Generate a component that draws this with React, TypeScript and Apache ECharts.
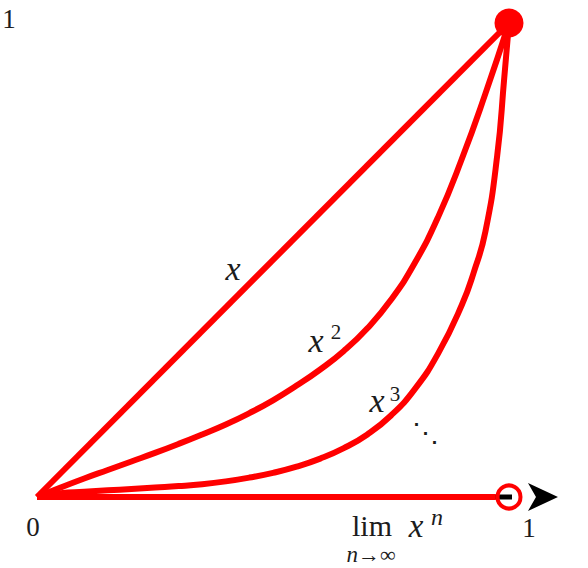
import React, { useEffect, useRef } from "react";
import * as echarts from "echarts";

// ---- data (normalised 0..1 coordinates) ----
const linearX = [0, 1];
const linearY = [0, 1];

const squareX = [0, 0.05, 0.1, 0.15, 0.2, 0.25, 0.3, 0.35, 0.4, 0.45, 0.5, 0.55, 0.6, 0.65, 0.7, 0.75, 0.8, 0.85, 0.9, 0.95, 1];
const squareY = [0, 0.02, 0.039, 0.057, 0.075, 0.093, 0.112, 0.132, 0.153, 0.177, 0.204, 0.235, 0.269, 0.308, 0.356, 0.416, 0.493, 0.591, 0.713, 0.851, 1];

const cubeX = [0, 0.05, 0.1, 0.15, 0.2, 0.25, 0.3, 0.35, 0.4, 0.45, 0.5, 0.55, 0.6, 0.65, 0.7, 0.75, 0.8, 0.85, 0.9, 0.925, 0.95, 0.975, 0.99, 1];
const cubeY = [0, 0.008, 0.011, 0.014, 0.017, 0.02, 0.023, 0.027, 0.033, 0.041, 0.051, 0.064, 0.081, 0.103, 0.132, 0.172, 0.227, 0.303, 0.405, 0.473, 0.56, 0.72, 0.885, 1];

const limitX = [0, 0.972];
const limitY = [0, 0];

const axisLineX = [0, 1.06];
const axisLineY = [0, 0];

const arrowPoint = [1.072, 0];
const closedPoint = [1, 1];
const openPoint = [1, 0];

const tickLabels = ["1", "0", "1"];
const curveLabels = ["x", "x", "x"];
const curveExponents = ["", "2", "3"];

const RED = "#ff0000";
const INK = "#1c1c1c";
const SERIF = "'Liberation Serif', 'DejaVu Serif', serif";

const zip = (xs: number[], ys: number[]) => xs.map((x, i) => [x, ys[i]]);

export default function App() {
  const ref = useRef<HTMLDivElement>(null);

  useEffect(() => {
    if (!ref.current) return;
    const chart = echarts.init(ref.current, null, { renderer: "svg" });

    const redLine = (name: string, data: number[][]) => ({
      name,
      type: "line",
      data,
      showSymbol: false,
      symbol: "none",
      smooth: 0.5,
      clip: false,
      lineStyle: { color: RED, width: 6, opacity: 1 },
      z: 3,
    });

    const txt = (text: string, x: number, y: number, size: number, italic = false, align = "center") => ({
      type: "text",
      x,
      y,
      z: 10,
      style: {
        text,
        fill: INK,
        font: `${italic ? "italic " : ""}${size}px ${SERIF}`,
        textAlign: align,
        textVerticalAlign: "middle",
      },
    });

    chart.setOption({
      animation: false,
      backgroundColor: "#ffffff",
      grid: { left: 37, right: 79, top: 23, bottom: 71 },
      xAxis: { type: "value", min: 0, max: 1, show: false },
      yAxis: { type: "value", min: 0, max: 1, show: false },
      series: [
        {
          type: "line",
          data: zip(axisLineX, axisLineY),
          symbol: "none",
          clip: false,
          lineStyle: { color: "#000000", width: 5, opacity: 1 },
          z: 1,
        },
        {
          type: "scatter",
          data: [arrowPoint],
          symbol: "path://M0,0 L30,14 L0,28 L8,14 Z",
          symbolSize: [30, 28],
          clip: false,
          itemStyle: { color: "#000000", opacity: 1 },
          z: 2,
        },
        redLine("limit", zip(limitX, limitY)),
        redLine("x", zip(linearX, linearY)),
        redLine("x2", zip(squareX, squareY)),
        redLine("x3", zip(cubeX, cubeY)),
        {
          type: "scatter",
          data: [openPoint],
          symbol: "circle",
          symbolSize: 23,
          clip: false,
          itemStyle: { color: "rgba(0,0,0,0)", borderColor: RED, borderWidth: 4, opacity: 1 },
          z: 5,
        },
        {
          type: "scatter",
          data: [closedPoint],
          symbol: "circle",
          symbolSize: 29,
          clip: false,
          itemStyle: { color: RED, opacity: 1 },
          z: 5,
        },
      ],
      graphic: [
        txt(tickLabels[0], 9, 19, 27),
        txt(tickLabels[1], 33, 527, 27),
        txt(tickLabels[2], 529, 528, 27),
        txt(curveLabels[0], 233, 268, 34, true),
        txt(curveLabels[1], 316, 340, 34, true),
        txt(curveExponents[1], 336, 332, 21),
        txt(curveLabels[2], 377, 400, 34, true),
        txt(curveExponents[2], 395, 394, 21),
        txt("⋱", 425, 433, 27),
        txt("lim", 372, 525, 30),
        {
          type: "text",
          x: 371,
          y: 554,
          z: 10,
          style: {
            text: "{i|n}→∞",
            fill: INK,
            font: `22px ${SERIF}`,
            textAlign: "center",
            textVerticalAlign: "middle",
            rich: { i: { fontStyle: "italic", fontSize: 23, fontFamily: SERIF, fill: INK } },
          },
        },
        txt("x", 416, 526, 33, true),
        txt("n", 437, 517, 24, true),
      ],
    });

    return () => chart.dispose();
  }, []);

  return (
    <div
      ref={ref}
      style={{ position: "fixed", left: 0, top: 0, width: 588, height: 568, background: "#fff" }}
    />
  );
}
